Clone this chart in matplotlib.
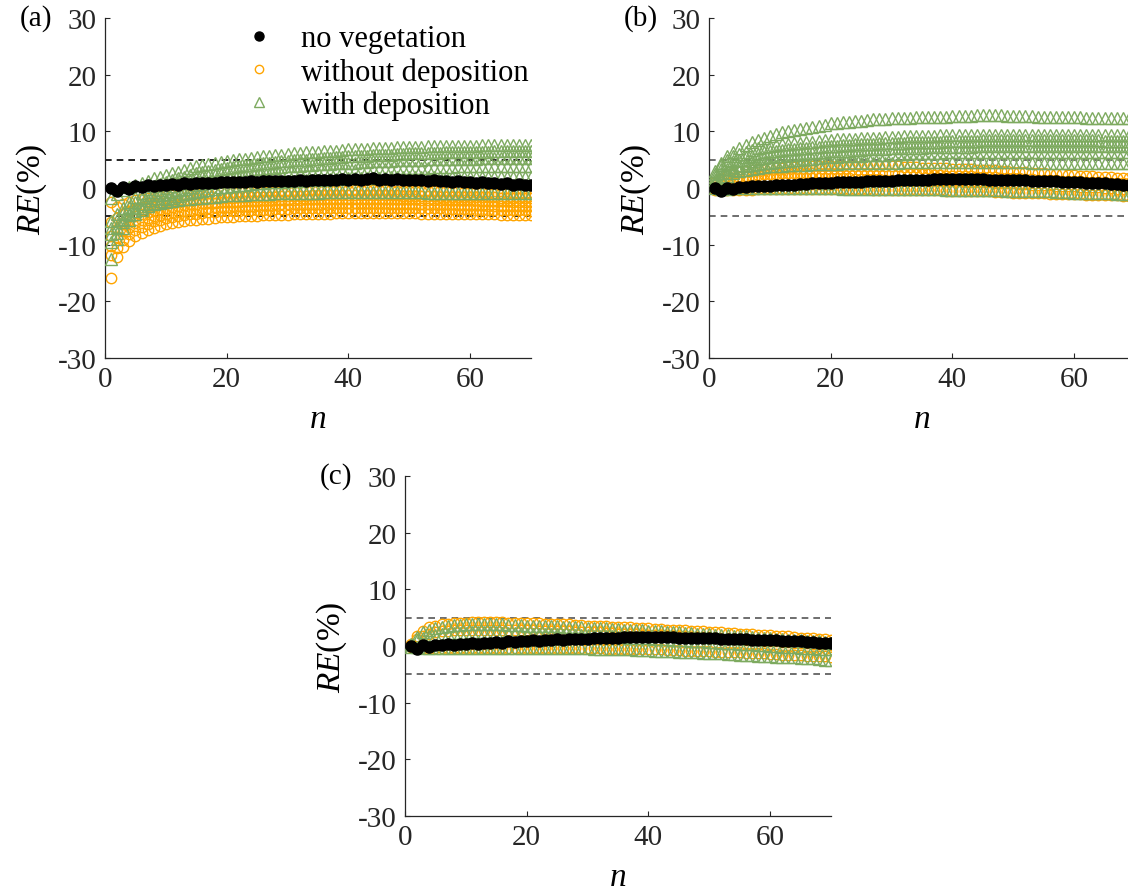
import numpy as np
import matplotlib
matplotlib.use("Agg")
import matplotlib.pyplot as plt
from matplotlib.lines import Line2D

plt.rcParams['font.family'] = ['Liberation Serif', 'DejaVu Serif']
plt.rcParams['mathtext.fontset'] = 'custom'
plt.rcParams['mathtext.rm'] = 'Liberation Serif'
plt.rcParams['mathtext.it'] = 'Liberation Serif:italic'
plt.rcParams['axes.unicode_minus'] = False

n = np.arange(1, 71)

# ---- panel (a) ----
black_a = [0.0, -0.5, 0.2, -0.1, 0.4, 0.2, 0.5, 0.4, 0.6, 0.5,
           0.7, 0.6, 0.8, 0.7, 0.9, 0.8, 0.9, 0.9, 1.0, 1.0,
           1.1, 1.0, 1.1, 1.2, 1.1, 1.2, 1.2, 1.3, 1.2, 1.3,
           1.3, 1.4, 1.3, 1.4, 1.5, 1.4, 1.5, 1.5, 1.6, 1.5,
           1.6, 1.5, 1.6, 1.7, 1.5, 1.6, 1.5, 1.6, 1.4, 1.5,
           1.4, 1.5, 1.3, 1.4, 1.2, 1.3, 1.1, 1.2, 1.0, 1.1,
           0.9, 1.0, 0.8, 0.9, 0.7, 0.8, 0.6, 0.7, 0.5, 0.5]

orange_a1 = [-15.9, -12.2, -10.4, -9.3, -8.5, -7.9, -7.4, -7.0, -6.7, -6.4,
             -6.2, -6.0, -5.8, -5.7, -5.6, -5.5, -5.4, -5.3, -5.2, -5.2,
             -5.1, -5.0, -5.0, -4.9, -4.9, -4.8, -4.8, -4.7, -4.7, -4.7,
             -4.6, -4.6, -4.6, -4.5, -4.5, -4.5, -4.5, -4.4, -4.4, -4.4,
             -4.4, -4.4, -4.4, -4.4, -4.4, -4.4, -4.4, -4.4, -4.4, -4.4,
             -4.4, -4.5, -4.5, -4.5, -4.5, -4.5, -4.5, -4.5, -4.6, -4.6,
             -4.6, -4.6, -4.6, -4.6, -4.7, -4.7, -4.7, -4.7, -4.7, -4.8]
orange_a2 = [-11.8, -10.6, -9.2, -8.2, -7.4, -6.8, -6.3, -5.9, -5.6, -5.3,
             -5.1, -4.9, -4.7, -4.6, -4.5, -4.4, -4.3, -4.2, -4.1, -4.1,
             -4.0, -4.0, -3.9, -3.9, -3.8, -3.8, -3.8, -3.7, -3.7, -3.7,
             -3.6, -3.6, -3.6, -3.6, -3.5, -3.5, -3.5, -3.5, -3.5, -3.5,
             -3.5, -3.5, -3.5, -3.5, -3.5, -3.5, -3.5, -3.5, -3.5, -3.6,
             -3.6, -3.6, -3.6, -3.6, -3.6, -3.7, -3.7, -3.7, -3.7, -3.7,
             -3.8, -3.8, -3.8, -3.8, -3.8, -3.9, -3.9, -3.9, -3.9, -4.0]
orange_a3 = [-10.3, -8.7, -7.6, -6.8, -6.2, -5.7, -5.3, -5.0, -4.7, -4.5,
             -4.3, -4.1, -4.0, -3.8, -3.7, -3.6, -3.5, -3.4, -3.4, -3.3,
             -3.2, -3.2, -3.1, -3.1, -3.0, -3.0, -3.0, -2.9, -2.9, -2.9,
             -2.8, -2.8, -2.8, -2.8, -2.8, -2.7, -2.7, -2.7, -2.7, -2.7,
             -2.7, -2.7, -2.7, -2.7, -2.7, -2.7, -2.8, -2.8, -2.8, -2.8,
             -2.8, -2.8, -2.9, -2.9, -2.9, -2.9, -2.9, -3.0, -3.0, -3.0,
             -3.0, -3.0, -3.1, -3.1, -3.1, -3.1, -3.2, -3.2, -3.2, -3.2]
orange_a4 = [-8.5, -7.2, -6.3, -5.6, -5.0, -4.6, -4.2, -3.9, -3.7, -3.5,
             -3.3, -3.2, -3.0, -2.9, -2.8, -2.7, -2.6, -2.6, -2.5, -2.5,
             -2.4, -2.4, -2.3, -2.3, -2.3, -2.2, -2.2, -2.2, -2.1, -2.1,
             -2.1, -2.1, -2.0, -2.0, -2.0, -2.0, -2.0, -2.0, -1.9, -1.9,
             -1.9, -1.9, -1.9, -1.9, -2.0, -2.0, -2.0, -2.0, -2.0, -2.0,
             -2.0, -2.1, -2.1, -2.1, -2.1, -2.1, -2.2, -2.2, -2.2, -2.2,
             -2.2, -2.3, -2.3, -2.3, -2.3, -2.3, -2.4, -2.4, -2.4, -2.4]
orange_a5 = [-6.0, -5.3, -4.6, -4.1, -3.7, -3.4, -3.1, -2.9, -2.7, -2.5,
             -2.4, -2.3, -2.2, -2.1, -2.0, -1.9, -1.9, -1.8, -1.8, -1.7,
             -1.7, -1.6, -1.6, -1.6, -1.5, -1.5, -1.5, -1.5, -1.4, -1.4,
             -1.4, -1.4, -1.4, -1.3, -1.3, -1.3, -1.3, -1.3, -1.3, -1.3,
             -1.3, -1.3, -1.3, -1.3, -1.3, -1.3, -1.3, -1.3, -1.4, -1.4,
             -1.4, -1.4, -1.4, -1.4, -1.5, -1.5, -1.5, -1.5, -1.5, -1.6,
             -1.6, -1.6, -1.6, -1.6, -1.7, -1.7, -1.7, -1.7, -1.7, -1.8]
orange_a6 = [-2.5, -3.4, -2.9, -2.5, -2.2, -1.9, -1.7, -1.6, -1.4, -1.3,
             -1.2, -1.1, -1.0, -1.0, -0.9, -0.9, -0.8, -0.8, -0.7, -0.7,
             -0.7, -0.6, -0.6, -0.6, -0.6, -0.5, -0.5, -0.5, -0.5, -0.5,
             -0.5, -0.4, -0.4, -0.4, -0.4, -0.4, -0.4, -0.4, -0.4, -0.4,
             -0.4, -0.4, -0.4, -0.4, -0.4, -0.4, -0.4, -0.5, -0.5, -0.5,
             -0.5, -0.5, -0.5, -0.6, -0.6, -0.6, -0.6, -0.6, -0.7, -0.7,
             -0.7, -0.7, -0.8, -0.8, -0.8, -0.8, -0.9, -0.9, -0.9, -1.0]

green_a1 = [-1.8, -1.0, -0.3, 0.1, 0.5, 0.9, 1.3, 1.7, 2.0, 2.3,
            2.6, 2.9, 3.2, 3.5, 3.8, 4.0, 4.2, 4.4, 4.6, 4.8,
            4.9, 5.1, 5.2, 5.3, 5.5, 5.6, 5.7, 5.8, 5.9, 6.0,
            6.1, 6.2, 6.3, 6.3, 6.4, 6.5, 6.6, 6.6, 6.7, 6.8,
            6.8, 6.9, 6.9, 7.0, 7.0, 7.1, 7.1, 7.2, 7.2, 7.3,
            7.3, 7.3, 7.4, 7.4, 7.4, 7.4, 7.5, 7.5, 7.5, 7.5,
            7.5, 7.6, 7.6, 7.6, 7.6, 7.6, 7.6, 7.6, 7.6, 7.6]
green_a2 = [-5.9, -4.6, -3.5, -2.5, -1.5, -0.8, -0.2, 0.3, 0.7, 1.0,
            1.4, 1.7, 2.0, 2.3, 2.6, 2.8, 3.0, 3.2, 3.4, 3.6,
            3.7, 3.9, 4.0, 4.1, 4.2, 4.4, 4.5, 4.6, 4.7, 4.8,
            4.9, 4.9, 5.0, 5.1, 5.2, 5.3, 5.3, 5.4, 5.5, 5.6,
            5.6, 5.7, 5.7, 5.8, 5.8, 5.9, 5.9, 6.0, 6.0, 6.1,
            6.1, 6.1, 6.2, 6.2, 6.2, 6.3, 6.3, 6.3, 6.4, 6.4,
            6.4, 6.4, 6.4, 6.5, 6.5, 6.5, 6.5, 6.5, 6.5, 6.5]
green_a3 = [-7.0, -5.6, -4.4, -3.4, -2.5, -1.8, -1.2, -0.7, -0.3, 0.0,
            0.4, 0.8, 1.1, 1.4, 1.7, 1.9, 2.1, 2.3, 2.5, 2.6,
            2.8, 2.9, 3.0, 3.1, 3.3, 3.4, 3.5, 3.6, 3.7, 3.8,
            3.9, 3.9, 4.0, 4.1, 4.2, 4.2, 4.3, 4.4, 4.4, 4.5,
            4.5, 4.6, 4.6, 4.7, 4.7, 4.8, 4.8, 4.9, 4.9, 5.0,
            5.0, 5.0, 5.1, 5.1, 5.1, 5.1, 5.2, 5.2, 5.2, 5.2,
            5.2, 5.3, 5.3, 5.3, 5.3, 5.3, 5.3, 5.3, 5.3, 5.3]
green_a4 = [-8.2, -7.9, -6.0, -4.6, -3.5, -2.8, -2.2, -1.7, -1.3, -1.0,
            -0.7, -0.4, -0.1, 0.2, 0.5, 0.7, 0.9, 1.1, 1.3, 1.5,
            1.6, 1.8, 1.9, 2.0, 2.1, 2.2, 2.3, 2.4, 2.5, 2.6,
            2.7, 2.7, 2.8, 2.9, 2.9, 3.0, 3.0, 3.1, 3.1, 3.2,
            3.2, 3.3, 3.3, 3.3, 3.4, 3.4, 3.4, 3.5, 3.5, 3.6,
            3.6, 3.6, 3.6, 3.7, 3.7, 3.7, 3.7, 3.8, 3.8, 3.8,
            3.8, 3.8, 3.8, 3.9, 3.9, 3.9, 3.9, 3.9, 3.9, 3.9]
green_a5 = [-12.6, -9.0, -7.0, -5.6, -4.5, -3.8, -3.2, -2.7, -2.3, -2.0,
            -1.7, -1.4, -1.1, -0.9, -0.7, -0.5, -0.3, -0.1, 0.1, 0.2,
            0.3, 0.5, 0.6, 0.7, 0.8, 0.9, 1.0, 1.1, 1.1, 1.2,
            1.3, 1.3, 1.4, 1.4, 1.5, 1.5, 1.6, 1.6, 1.6, 1.7,
            1.7, 1.7, 1.8, 1.8, 1.8, 1.8, 1.9, 1.9, 1.9, 1.9,
            1.9, 1.9, 2.0, 2.0, 2.0, 2.0, 2.0, 2.0, 2.0, 2.0,
            2.0, 2.0, 2.0, 2.0, 2.0, 2.0, 2.0, 2.0, 2.0, 2.0]
green_a6 = [-9.5, -6.8, -5.5, -4.7, -4.0, -3.6, -3.2, -2.9, -2.7, -2.5,
            -2.3, -2.2, -2.0, -1.9, -1.8, -1.7, -1.6, -1.5, -1.4, -1.3,
            -1.3, -1.2, -1.2, -1.1, -1.1, -1.0, -1.0, -0.9, -0.9, -0.9,
            -0.8, -0.8, -0.8, -0.8, -0.8, -0.7, -0.7, -0.7, -0.7, -0.7,
            -0.7, -0.7, -0.7, -0.7, -0.7, -0.7, -0.7, -0.7, -0.7, -0.7,
            -0.7, -0.7, -0.8, -0.8, -0.8, -0.8, -0.8, -0.8, -0.8, -0.9,
            -0.9, -0.9, -0.9, -0.9, -0.9, -0.9, -0.9, -0.9, -0.9, -0.9]

# ---- panel (b) ----
black_b = [0.0, -0.6, 0.0, -0.1, 0.2, 0.1, 0.3, 0.3, 0.4, 0.4,
           0.5, 0.5, 0.6, 0.6, 0.7, 0.7, 0.8, 0.8, 0.9, 0.9,
           1.0, 1.0, 1.1, 1.1, 1.1, 1.2, 1.2, 1.3, 1.3, 1.3,
           1.4, 1.4, 1.4, 1.5, 1.5, 1.5, 1.6, 1.6, 1.6, 1.6,
           1.6, 1.6, 1.6, 1.6, 1.6, 1.5, 1.5, 1.5, 1.5, 1.4,
           1.4, 1.4, 1.3, 1.3, 1.2, 1.2, 1.2, 1.1, 1.1, 1.0,
           1.0, 0.9, 0.9, 0.8, 0.8, 0.7, 0.7, 0.6, 0.5, 0.5]

orange_b1 = [1.0, 1.6, 2.1, 2.5, 2.8, 3.0, 3.2, 3.3, 3.4, 3.5,
             3.6, 3.6, 3.7, 3.7, 3.8, 3.8, 3.8, 3.9, 3.9, 3.9,
             3.9, 3.9, 3.9, 3.9, 3.9, 3.9, 3.9, 3.8, 3.8, 3.8,
             3.8, 3.7, 3.7, 3.7, 3.6, 3.6, 3.5, 3.5, 3.5, 3.4,
             3.4, 3.3, 3.3, 3.2, 3.2, 3.1, 3.1, 3.0, 3.0, 2.9,
             2.8, 2.8, 2.7, 2.7, 2.6, 2.5, 2.5, 2.4, 2.3, 2.3,
             2.2, 2.1, 2.1, 2.0, 1.9, 1.9, 1.8, 1.7, 1.7, 1.6]
orange_b2 = [0.5, 1.0, 1.4, 1.7, 1.9, 2.1, 2.2, 2.3, 2.4, 2.5,
             2.5, 2.6, 2.6, 2.6, 2.7, 2.7, 2.7, 2.7, 2.7, 2.7,
             2.7, 2.7, 2.7, 2.7, 2.7, 2.7, 2.6, 2.6, 2.6, 2.6,
             2.5, 2.5, 2.5, 2.4, 2.4, 2.4, 2.3, 2.3, 2.2, 2.2,
             2.2, 2.1, 2.1, 2.0, 2.0, 1.9, 1.9, 1.8, 1.8, 1.7,
             1.7, 1.6, 1.6, 1.5, 1.5, 1.4, 1.4, 1.3, 1.3, 1.2,
             1.2, 1.1, 1.1, 1.0, 1.0, 0.9, 0.9, 0.8, 0.8, 0.7]
orange_b3 = [0.2, 0.5, 0.8, 1.0, 1.2, 1.3, 1.4, 1.5, 1.5, 1.6,
             1.6, 1.6, 1.7, 1.7, 1.7, 1.7, 1.7, 1.7, 1.7, 1.7,
             1.7, 1.7, 1.7, 1.6, 1.6, 1.6, 1.6, 1.6, 1.5, 1.5,
             1.5, 1.5, 1.4, 1.4, 1.4, 1.3, 1.3, 1.3, 1.2, 1.2,
             1.2, 1.1, 1.1, 1.0, 1.0, 1.0, 0.9, 0.9, 0.8, 0.8,
             0.7, 0.7, 0.6, 0.6, 0.5, 0.5, 0.4, 0.4, 0.3, 0.3,
             0.2, 0.2, 0.1, 0.1, 0.0, 0.0, -0.1, -0.1, -0.2, -0.2]
orange_b4 = [-0.3, -0.4, -0.4, -0.3, -0.3, -0.3, -0.3, -0.2, -0.2, -0.2,
             -0.2, -0.2, -0.2, -0.2, -0.2, -0.2, -0.2, -0.2, -0.2, -0.2,
             -0.2, -0.2, -0.2, -0.2, -0.2, -0.2, -0.3, -0.3, -0.3, -0.3,
             -0.3, -0.3, -0.3, -0.4, -0.4, -0.4, -0.4, -0.4, -0.5, -0.5,
             -0.5, -0.5, -0.6, -0.6, -0.6, -0.6, -0.7, -0.7, -0.7, -0.8,
             -0.8, -0.8, -0.9, -0.9, -0.9, -1.0, -1.0, -1.0, -1.1, -1.1,
             -1.1, -1.2, -1.2, -1.2, -1.3, -1.3, -1.3, -1.4, -1.4, -1.5]

green_b1 = [3.0, 4.5, 5.6, 6.4, 7.0, 7.6, 8.1, 8.5, 8.9, 9.2,
            9.5, 9.8, 10.0, 10.2, 10.4, 10.6, 10.8, 11.0, 11.2, 11.4,
            11.5, 11.6, 11.7, 11.8, 11.9, 12.0, 12.1, 12.2, 12.2, 12.3,
            12.3, 12.4, 12.4, 12.5, 12.5, 12.5, 12.6, 12.6, 12.6, 12.7,
            12.7, 12.7, 12.7, 12.8, 12.8, 12.8, 12.8, 12.8, 12.7, 12.7,
            12.7, 12.7, 12.7, 12.6, 12.6, 12.6, 12.6, 12.5, 12.5, 12.5,
            12.5, 12.4, 12.4, 12.4, 12.4, 12.3, 12.3, 12.3, 12.3, 12.3]
green_b2 = [2.5, 4.0, 5.0, 5.6, 6.0, 6.4, 6.7, 7.0, 7.2, 7.5,
            7.6, 7.7, 7.8, 7.9, 8.0, 8.1, 8.2, 8.3, 8.4, 8.5,
            8.6, 8.6, 8.7, 8.7, 8.8, 8.8, 8.9, 8.9, 9.0, 9.0,
            9.0, 9.1, 9.1, 9.1, 9.2, 9.2, 9.2, 9.3, 9.3, 9.3,
            9.3, 9.3, 9.4, 9.4, 9.4, 9.4, 9.4, 9.4, 9.4, 9.4,
            9.4, 9.4, 9.4, 9.4, 9.4, 9.4, 9.4, 9.4, 9.4, 9.4,
            9.4, 9.4, 9.4, 9.3, 9.3, 9.3, 9.3, 9.3, 9.3, 9.3]
green_b3 = [2.0, 3.3, 4.2, 4.7, 5.0, 5.4, 5.7, 6.0, 6.3, 6.5,
            6.6, 6.7, 6.8, 6.9, 7.0, 7.1, 7.2, 7.3, 7.4, 7.5,
            7.5, 7.6, 7.6, 7.7, 7.7, 7.8, 7.8, 7.9, 7.9, 8.0,
            8.0, 8.0, 8.1, 8.1, 8.1, 8.2, 8.2, 8.2, 8.3, 8.3,
            8.3, 8.3, 8.3, 8.3, 8.4, 8.4, 8.4, 8.4, 8.4, 8.4,
            8.4, 8.4, 8.4, 8.4, 8.4, 8.4, 8.4, 8.4, 8.4, 8.4,
            8.4, 8.4, 8.4, 8.4, 8.3, 8.3, 8.3, 8.3, 8.3, 8.3]
green_b4 = [1.5, 2.6, 3.3, 3.7, 4.0, 4.4, 4.8, 5.1, 5.3, 5.5,
            5.6, 5.7, 5.8, 5.9, 6.0, 6.1, 6.2, 6.3, 6.4, 6.5,
            6.5, 6.6, 6.6, 6.7, 6.7, 6.8, 6.8, 6.9, 6.9, 7.0,
            7.0, 7.0, 7.1, 7.1, 7.1, 7.2, 7.2, 7.2, 7.3, 7.3,
            7.3, 7.3, 7.3, 7.4, 7.4, 7.4, 7.4, 7.4, 7.5, 7.5,
            7.5, 7.5, 7.5, 7.5, 7.5, 7.5, 7.5, 7.5, 7.5, 7.5,
            7.5, 7.5, 7.5, 7.4, 7.4, 7.4, 7.4, 7.4, 7.4, 7.4]
green_b5 = [1.0, 2.0, 2.7, 3.1, 3.5, 3.8, 4.0, 4.2, 4.4, 4.5,
            4.6, 4.7, 4.8, 4.9, 5.0, 5.1, 5.2, 5.3, 5.4, 5.5,
            5.5, 5.6, 5.6, 5.7, 5.7, 5.8, 5.8, 5.9, 5.9, 6.0,
            6.0, 6.0, 6.1, 6.1, 6.1, 6.2, 6.2, 6.2, 6.3, 6.3,
            6.3, 6.3, 6.3, 6.3, 6.4, 6.4, 6.4, 6.4, 6.4, 6.4,
            6.4, 6.4, 6.4, 6.4, 6.4, 6.4, 6.4, 6.4, 6.4, 6.4,
            6.4, 6.4, 6.4, 6.4, 6.3, 6.3, 6.3, 6.3, 6.3, 6.3]
green_b6 = [0.8, 1.6, 2.2, 2.6, 3.0, 3.2, 3.4, 3.5, 3.7, 3.8,
            3.9, 3.9, 4.0, 4.0, 4.1, 4.1, 4.2, 4.2, 4.3, 4.3,
            4.3, 4.4, 4.4, 4.4, 4.4, 4.5, 4.5, 4.5, 4.5, 4.5,
            4.5, 4.6, 4.6, 4.6, 4.6, 4.6, 4.6, 4.6, 4.6, 4.6,
            4.6, 4.6, 4.6, 4.6, 4.6, 4.6, 4.6, 4.6, 4.6, 4.6,
            4.6, 4.6, 4.5, 4.5, 4.5, 4.5, 4.5, 4.5, 4.5, 4.5,
            4.5, 4.5, 4.5, 4.4, 4.4, 4.4, 4.4, 4.4, 4.4, 4.4]
green_b7 = [0.0, -0.2, -0.1, 0.0, 0.0, 0.0, 0.0, 0.0, 0.0, 0.0,
            0.0, 0.0, 0.0, 0.0, 0.0, 0.0, 0.0, 0.0, 0.0, 0.0,
            0.0, -0.1, -0.1, -0.1, -0.1, -0.1, -0.1, -0.1, -0.1, -0.1,
            -0.1, -0.1, -0.2, -0.2, -0.2, -0.2, -0.2, -0.2, -0.3, -0.3,
            -0.3, -0.3, -0.3, -0.3, -0.4, -0.4, -0.4, -0.4, -0.5, -0.5,
            -0.5, -0.5, -0.6, -0.6, -0.6, -0.6, -0.7, -0.7, -0.7, -0.8,
            -0.8, -0.8, -0.8, -0.9, -0.9, -0.9, -1.0, -1.0, -1.0, -1.0]

# ---- panel (c) ----
black_c = [0.0, -0.6, 0.1, -0.1, 0.2, 0.1, 0.3, 0.2, 0.4, 0.3,
           0.5, 0.4, 0.6, 0.5, 0.7, 0.6, 0.8, 0.7, 0.9, 0.8,
           1.0, 0.9, 1.1, 1.0, 1.2, 1.1, 1.3, 1.2, 1.3, 1.3,
           1.4, 1.4, 1.5, 1.5, 1.5, 1.6, 1.6, 1.6, 1.6, 1.6,
           1.6, 1.6, 1.6, 1.6, 1.5, 1.5, 1.5, 1.5, 1.4, 1.4,
           1.4, 1.3, 1.3, 1.3, 1.2, 1.2, 1.1, 1.1, 1.1, 1.0,
           1.0, 0.9, 0.9, 0.8, 0.8, 0.7, 0.7, 0.6, 0.6, 0.5]

orange_c1 = [0.3, 1.8, 2.7, 3.3, 3.6, 3.8, 3.9, 4.0, 4.1, 4.1,
             4.2, 4.2, 4.2, 4.2, 4.2, 4.2, 4.1, 4.1, 4.1, 4.0,
             4.0, 4.0, 3.9, 3.9, 3.9, 3.8, 3.8, 3.7, 3.7, 3.6,
             3.6, 3.5, 3.5, 3.4, 3.4, 3.3, 3.3, 3.2, 3.2, 3.1,
             3.0, 3.0, 2.9, 2.9, 2.8, 2.8, 2.7, 2.6, 2.6, 2.5,
             2.5, 2.4, 2.3, 2.3, 2.2, 2.1, 2.1, 2.0, 1.9, 1.9,
             1.8, 1.7, 1.7, 1.6, 1.5, 1.4, 1.4, 1.3, 1.2, 1.1]
orange_c2 = [0.2, 1.2, 1.8, 2.2, 2.4, 2.6, 2.7, 2.8, 2.8, 2.9,
             2.9, 2.9, 2.9, 2.9, 2.9, 2.9, 2.9, 2.8, 2.8, 2.8,
             2.8, 2.7, 2.7, 2.7, 2.6, 2.6, 2.6, 2.5, 2.5, 2.4,
             2.4, 2.4, 2.3, 2.3, 2.2, 2.2, 2.1, 2.1, 2.0, 2.0,
             1.9, 1.9, 1.8, 1.8, 1.7, 1.7, 1.6, 1.6, 1.5, 1.5,
             1.4, 1.3, 1.3, 1.2, 1.2, 1.1, 1.0, 1.0, 0.9, 0.9,
             0.8, 0.7, 0.7, 0.6, 0.5, 0.5, 0.4, 0.3, 0.3, 0.2]
orange_c3 = [-0.2, -0.3, -0.4, -0.4, -0.4, -0.4, -0.4, -0.4, -0.4, -0.4,
             -0.4, -0.4, -0.4, -0.4, -0.4, -0.4, -0.4, -0.4, -0.4, -0.4,
             -0.4, -0.4, -0.4, -0.4, -0.4, -0.4, -0.4, -0.4, -0.4, -0.4,
             -0.4, -0.4, -0.5, -0.5, -0.5, -0.5, -0.5, -0.5, -0.6, -0.6,
             -0.6, -0.6, -0.7, -0.7, -0.7, -0.8, -0.8, -0.8, -0.9, -0.9,
             -1.0, -1.0, -1.0, -1.1, -1.1, -1.2, -1.2, -1.3, -1.3, -1.4,
             -1.4, -1.5, -1.5, -1.6, -1.6, -1.7, -1.7, -1.8, -1.8, -1.9]

green_c1 = [0.3, 1.6, 2.4, 2.9, 3.2, 3.4, 3.6, 3.7, 3.7, 3.8,
            3.8, 3.8, 3.8, 3.8, 3.8, 3.8, 3.7, 3.7, 3.7, 3.6,
            3.6, 3.6, 3.5, 3.5, 3.5, 3.4, 3.4, 3.3, 3.3, 3.2,
            3.2, 3.1, 3.1, 3.0, 3.0, 2.9, 2.9, 2.8, 2.8, 2.7,
            2.6, 2.6, 2.5, 2.5, 2.4, 2.3, 2.3, 2.2, 2.1, 2.1,
            2.0, 1.9, 1.9, 1.8, 1.7, 1.7, 1.6, 1.5, 1.4, 1.4,
            1.3, 1.2, 1.1, 1.1, 1.0, 0.9, 0.8, 0.8, 0.7, 0.6]
green_c2 = [0.2, 1.0, 1.5, 1.8, 2.0, 2.1, 2.2, 2.3, 2.3, 2.3,
            2.4, 2.4, 2.4, 2.4, 2.4, 2.3, 2.3, 2.3, 2.3, 2.2,
            2.2, 2.2, 2.1, 2.1, 2.1, 2.0, 2.0, 1.9, 1.9, 1.9,
            1.8, 1.8, 1.7, 1.7, 1.6, 1.6, 1.5, 1.5, 1.4, 1.4,
            1.3, 1.2, 1.2, 1.1, 1.1, 1.0, 0.9, 0.9, 0.8, 0.7,
            0.7, 0.6, 0.5, 0.5, 0.4, 0.3, 0.3, 0.2, 0.1, 0.0,
            0.0, -0.1, -0.2, -0.2, -0.3, -0.4, -0.4, -0.5, -0.6, -0.6]
green_c3 = [-0.1, -0.2, -0.3, -0.3, -0.3, -0.3, -0.3, -0.3, -0.3, -0.3,
            -0.3, -0.3, -0.3, -0.3, -0.3, -0.3, -0.3, -0.3, -0.3, -0.3,
            -0.3, -0.3, -0.3, -0.4, -0.4, -0.4, -0.4, -0.4, -0.4, -0.4,
            -0.5, -0.5, -0.5, -0.5, -0.6, -0.6, -0.6, -0.7, -0.7, -0.7,
            -0.8, -0.8, -0.9, -0.9, -1.0, -1.0, -1.1, -1.1, -1.2, -1.2,
            -1.3, -1.3, -1.4, -1.4, -1.5, -1.6, -1.6, -1.7, -1.7, -1.8,
            -1.9, -1.9, -2.0, -2.0, -2.1, -2.2, -2.2, -2.3, -2.4, -2.5]

panels = [
    ('(a)', black_a, [orange_a1, orange_a2, orange_a3, orange_a4, orange_a5, orange_a6],
     [green_a1, green_a2, green_a3, green_a4, green_a5, green_a6], 'black'),
    ('(b)', black_b, [orange_b1, orange_b2, orange_b3, orange_b4],
     [green_b1, green_b2, green_b3, green_b4, green_b5, green_b6, green_b7], '#555555'),
    ('(c)', black_c, [orange_c1, orange_c2, orange_c3],
     [green_c1, green_c2, green_c3], '#555555'),
]

ORANGE = '#FFA500'
GREEN = '#7DAA5F'

W, H = 1128, 895
fig = plt.figure(figsize=(W / 100, H / 100), dpi=100)

# axes boxes in pixels: left, bottom(-30 line), width, height
boxes = [(105, 359, 426, 340), (709, 359, 426, 340), (405, 817, 426, 340)]

for (lab, blk, oranges, greens, dcol), (x0, yb, w, h) in zip(panels, boxes):
    ax = fig.add_axes([x0 / W, (H - yb) / H, w / W, h / H])
    ax.axhline(5, color=dcol, ls=(0, (4, 3)), lw=1.2, zorder=1)
    ax.axhline(-5, color=dcol, ls=(0, (4, 3)), lw=1.2, zorder=1)
    for y in oranges:
        ax.plot(n, y, ls='none', marker='o', ms=7.5, mfc='none', mec=ORANGE, mew=1.0, zorder=2)
    for y in greens:
        ax.plot(n, y, ls='none', marker='^', ms=8.5, mfc='none', mec=GREEN, mew=1.0, zorder=3)
    ax.plot(n, blk, ls='none', marker='o', ms=8, mfc='black', mec='black', zorder=4)

    ax.set_xlim(0, 70)
    ax.set_ylim(-30, 30)
    ax.set_xticks([0, 20, 40, 60])
    ax.set_yticks([-30, -20, -10, 0, 10, 20, 30])
    ax.spines['top'].set_visible(False)
    ax.spines['right'].set_visible(False)
    for s in ('left', 'bottom'):
        ax.spines[s].set_color('#262626')
        ax.spines[s].set_linewidth(0.9)
    ax.tick_params(direction='in', length=3.5, width=0.8, labelsize=21, colors='#262626', pad=6)
    ax.set_xlabel(r'$n$', fontsize=24, labelpad=8)
    ax.set_ylabel(r'$RE$(%)', fontsize=24, labelpad=6)
    fig.text((x0 - 85) / W, (H - yb + h) / H, lab, fontsize=21, va='center', ha='left')

    if lab == '(a)':
        handles = [
            Line2D([], [], ls='none', marker='o', ms=6.5, mfc='black', mec='black'),
            Line2D([], [], ls='none', marker='o', ms=6, mfc='none', mec=ORANGE, mew=1.0),
            Line2D([], [], ls='none', marker='^', ms=6.5, mfc='none', mec=GREEN, mew=1.0),
        ]
        fig.legend(handles, ['no vegetation', 'without deposition', 'with deposition'],
                   loc='upper left', bbox_to_anchor=(222 / W, 1 - 4 / H), frameon=False,
                   fontsize=22, handlelength=1.0, handletextpad=0.9, labelspacing=0.12,
                   borderpad=0.2)

fig.savefig('out.png', dpi=100)
